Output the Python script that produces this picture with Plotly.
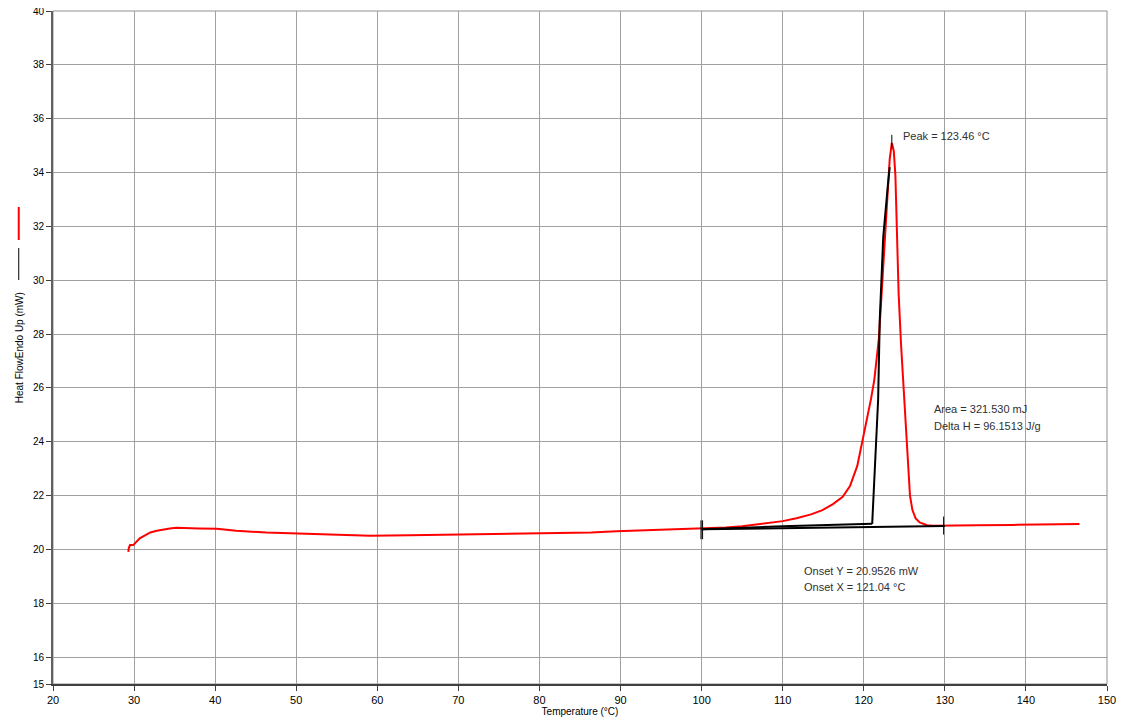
import plotly.graph_objects as go

# --- DSC heat flow curve (red) ---
temp = [29.29, 29.35, 29.5, 29.9, 30.7, 31.3, 32.0, 32.8, 33.6, 34.4, 35.2, 36.5, 38.0, 40.2,
        42.6, 46.3, 50.5, 53.3, 59.1, 64.0, 70.0, 76.4, 81.0, 86.4, 89.5, 93.2, 97.7, 100.1,
        103.0, 105.0, 107.5, 110.0, 111.7, 113.5, 114.9, 116.2, 117.4, 118.3, 119.2, 119.9,
        120.5, 120.9, 121.3, 121.6, 121.85, 122.1, 122.5, 122.96, 123.2, 123.46, 123.7, 123.9,
        124.07, 124.3, 124.6, 124.9, 125.1, 125.3, 125.5, 125.7, 126.0, 126.4, 126.9, 127.4,
        127.8, 128.5, 129.8, 134.0, 138.4, 142.5, 146.6]
heat = [19.91, 20.05, 20.16, 20.16, 20.41, 20.52, 20.63, 20.69, 20.74, 20.78, 20.8, 20.78, 20.78, 20.77,
        20.69, 20.63, 20.59, 20.56, 20.51, 20.53, 20.55, 20.58, 20.6, 20.63, 20.67, 20.71, 20.75, 20.76,
        20.81, 20.86, 20.96, 21.05, 21.16, 21.3, 21.46, 21.68, 21.95, 22.35, 23.1, 24.1,
        24.95, 25.6, 26.3, 27.0, 27.8, 29.0, 31.0, 33.5, 34.5, 35.1, 34.8, 33.9,
        32.2, 29.5, 27.6, 26.0, 25.0, 24.1, 23.0, 22.0, 21.46, 21.15, 21.0, 20.93,
        20.9, 20.88, 20.88, 20.9, 20.91, 20.93, 20.94]

# --- analysis construction lines (black) ---
base_x = [100.0, 130.0]
base_y = [20.75, 20.87]
ext_x = [100.0, 110.0, 121.04]
ext_y = [20.75, 20.86, 20.95]
tan_x = [121.04, 121.3, 121.77, 121.97, 122.4, 122.96, 123.2]
tan_y = [20.95, 22.5, 25.55, 28.5, 31.6, 33.5, 34.2]
peak_mark_x = [123.46, 123.46]
peak_mark_y = [34.9, 35.4]
lim1_x = [99.92, 99.92]
lim1b_x = [100.12, 100.12]
lim_y = [20.38, 21.08]
lim2_x = [129.85, 129.85]
lim2_y = [20.55, 21.22]

x_ticks = list(range(20, 151, 10))
y_ticks = [15] + list(range(16, 41, 2))

fig = go.Figure()
fig.add_trace(go.Scatter(x=temp, y=heat, mode="lines",
                         line=dict(color="#ff0000", width=2), hoverinfo="skip"))
for xs, ys, w in [(base_x, base_y, 2), (ext_x, ext_y, 2), (tan_x, tan_y, 2),
                  (peak_mark_x, peak_mark_y, 1), (lim1_x, lim_y, 1), (lim1b_x, lim_y, 1),
                  (lim2_x, lim2_y, 1)]:
    fig.add_trace(go.Scatter(x=xs, y=ys, mode="lines",
                             line=dict(color="#000000", width=w), hoverinfo="skip"))

txt = dict(family="Liberation Sans, Arial, sans-serif", size=11, color="#303030")
ann = [
    dict(x=124.55, y=35.35, text="Peak = 123.46 °C"),
    dict(x=128.4, y=25.2, text="Area = 321.530 mJ"),
    dict(x=128.4, y=24.6, text="Delta H = 96.1513 J/g"),
    dict(x=112.35, y=19.2, text="Onset Y = 20.9526 mW"),
    dict(x=112.35, y=18.6, text="Onset X = 121.04 °C"),
]
for a in ann:
    fig.add_annotation(x=a["x"], y=a["y"], text=a["text"], xref="x", yref="y",
                       xanchor="left", yanchor="middle", showarrow=False, font=txt)

PH = 673.0  # plot height in px, used for legend-key placement in paper coords
# y-axis title with legend keys
fig.add_annotation(x=-0.032, y=1 - (348 - 11) / PH, xref="paper", yref="paper",
                   text="Heat FlowEndo Up (mW)",
                   textangle=-90, showarrow=False, xanchor="center", yanchor="middle",
                   font=dict(family="Liberation Sans, Arial, sans-serif", size=10, color="#000"))
fig.add_shape(type="line", xref="paper", yref="paper", x0=-0.0325, x1=-0.0325,
              y0=1 - (248 - 11) / PH, y1=1 - (280 - 11) / PH, line=dict(color="#000", width=1))
fig.add_shape(type="line", xref="paper", yref="paper", x0=-0.0325, x1=-0.0325,
              y0=1 - (207 - 11) / PH, y1=1 - (240 - 11) / PH, line=dict(color="#ff0000", width=2))

fig.update_layout(
    width=1117, height=717,
    margin=dict(l=45, r=18, t=3, b=41, autoexpand=False),
    paper_bgcolor="white", plot_bgcolor="white",
    showlegend=False,
    font=dict(family="Liberation Sans, Arial, sans-serif", size=10, color="#000"),
    xaxis=dict(range=[20, 150], tickvals=x_ticks, ticks="outside", ticklen=5, tickcolor="#404040",
               showgrid=True, gridcolor="#a0a0a0", gridwidth=1, zeroline=False,
               showline=True, linecolor="#404040", linewidth=2, mirror=False,
               tickfont=dict(size=11), automargin=False, ticklabeloverflow="allow",
               title=dict(text="Temperature (°C)", font=dict(size=10), standoff=2)),
    yaxis=dict(range=[15, 40], tickvals=y_ticks, ticks="outside", ticklen=5, tickcolor="#404040",
               showgrid=True, gridcolor="#a0a0a0", gridwidth=1, zeroline=False,
               showline=True, linecolor="#606060", linewidth=2, mirror=False,
               tickfont=dict(size=10), automargin=False, ticklabeloverflow="allow"),
)
# top and right frame
fig.add_shape(type="rect", xref="paper", yref="paper", x0=0, x1=1, y0=0, y1=1,
              line=dict(color="#909090", width=1), layer="below")

fig.write_html("out.html")
